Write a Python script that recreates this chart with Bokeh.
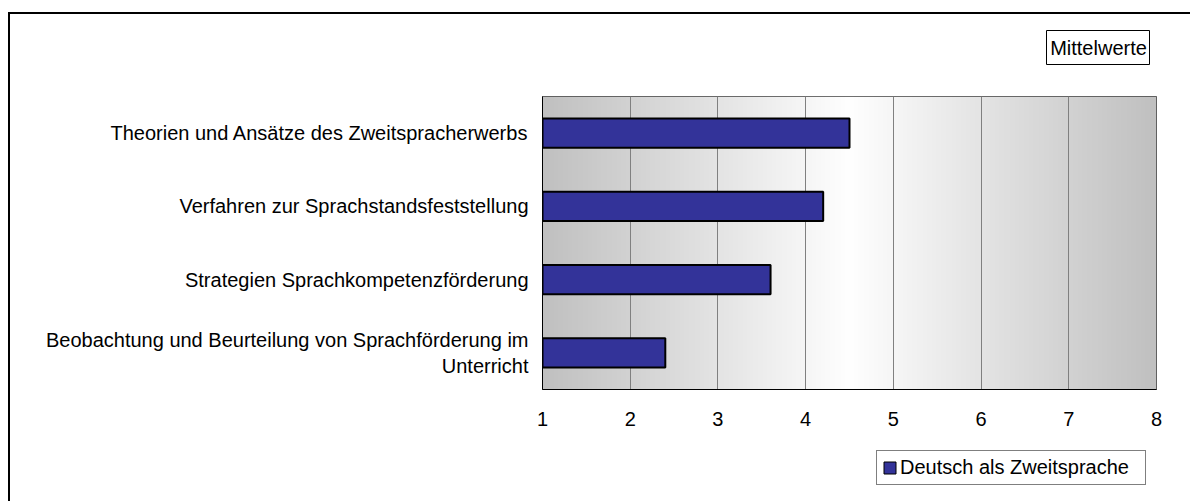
import numpy as np
from bokeh.plotting import figure
from bokeh.layouts import column, row
from bokeh.models import (FactorRange, Range1d, Legend, LegendItem, Label,
                          FixedTicker, ColumnDataSource, Spacer)
from bokeh.embed import file_html
from bokeh.resources import INLINE

# ---- data ----
categories = [
    "Theorien und Ansätze des Zweitspracherwerbs",
    "Verfahren zur Sprachstandsfeststellung",
    "Strategien Sprachkompetenzförderung",
    "Beobachtung und Beurteilung von Sprachförderung im\nUnterricht",
]
values = [4.5, 4.2, 3.6, 2.4]
series_name = "Deutsch als Zweitsprache"
x_ticks = [1, 2, 3, 4, 5, 6, 7, 8]
box_title = "Mittelwerte"

FONT = "Liberation Sans"
FS = "20px"
BAR_COLOR = "#333399"

factors = list(reversed(categories))

# ---- main chart ----
p = figure(width=1182, height=334, output_backend="svg", toolbar_location=None,
           y_range=FactorRange(factors=factors, range_padding=0),
           x_range=Range1d(x_ticks[0], x_ticks[-1]),
           min_border_left=532, min_border_right=36,
           min_border_top=0, min_border_bottom=41)
p.background_fill_color = "white"
p.border_fill_color = "white"
p.outline_line_color = "#404040"
p.outline_line_width = 1

# background gradient (grey -> white -> grey)
n = 400
xs = np.linspace(0, 1, n)
g = (192 + 63 * (1 - np.abs(xs - 0.5) * 2)).astype(np.uint8)
img = np.zeros((2, n), dtype=np.uint32)
view = img.view(dtype=np.uint8).reshape((2, n, 4))
view[:, :, 0] = g
view[:, :, 1] = g
view[:, :, 2] = g
view[:, :, 3] = 255
p.image_rgba(image=[img], x=x_ticks[0], y=0, dw=x_ticks[-1] - x_ticks[0],
             dh=len(categories), level="image")

src = ColumnDataSource(dict(cat=categories, val=values))
p.hbar(y="cat", right="val", left=x_ticks[0], height=0.4, source=src,
       fill_color=BAR_COLOR, line_color="black", line_width=2)

p.xaxis.ticker = FixedTicker(ticks=x_ticks)
p.xaxis.major_tick_line_color = None
p.xaxis.minor_tick_line_color = None
p.xaxis.axis_line_color = "black"
p.xaxis.major_label_standoff = 16
p.xaxis.major_label_text_font = FONT
p.xaxis.major_label_text_font_size = FS
p.xaxis.major_label_text_color = "black"

p.yaxis.major_tick_line_color = None
p.yaxis.minor_tick_line_color = None
p.yaxis.axis_line_color = "black"
p.yaxis.major_label_standoff = 8
p.yaxis.major_label_text_font = FONT
p.yaxis.major_label_text_font_size = FS
p.yaxis.major_label_text_color = "black"

p.xgrid.grid_line_color = "#808080"
p.xgrid.grid_line_width = 1
p.ygrid.grid_line_color = None

# ---- "Mittelwerte" box ----
p0 = figure(width=104, height=35, output_backend="svg", toolbar_location=None,
            x_axis_location=None, y_axis_location=None, min_border=0,
            x_range=Range1d(0, 1), y_range=Range1d(0, 1))
p0.grid.visible = False
p0.background_fill_color = "white"
p0.border_fill_color = "white"
p0.outline_line_color = "black"
p0.outline_line_width = 1
p0.add_layout(Label(x=0.5, y=0.5, text=box_title, text_align="center",
                    text_baseline="middle", text_font=FONT,
                    text_font_size=FS, text_color="black"))

# ---- legend strip ----
p2 = figure(width=272, height=37, output_backend="svg", toolbar_location=None,
            x_axis_location=None, y_axis_location=None, min_border=0,
            x_range=Range1d(0, 1), y_range=Range1d(0, 1))
p2.outline_line_color = None
p2.background_fill_color = "white"
p2.border_fill_color = "white"
p2.grid.visible = False
# key renderer: same series, zero-width and outside this strip's ranges
key = p2.hbar(y="val", right="val", left="val", height=0.4, source=src,
              fill_color=BAR_COLOR, line_color="black", line_width=1)
legend = Legend(items=[LegendItem(label=series_name, renderers=[key])],
                location="top_left", orientation="vertical",
                label_text_font=FONT, label_text_font_size=FS,
                label_text_color="black", label_width=240,
                glyph_width=15, glyph_height=15, label_standoff=3,
                padding=5, margin=1, spacing=0,
                border_line_color="black", border_line_width=1,
                background_fill_color="white", background_fill_alpha=1)
p2.add_layout(legend, "center")

layout = column(
    Spacer(height=16),
    row(Spacer(width=1036), p0, spacing=0),
    Spacer(height=31),
    p,
    Spacer(height=19),
    row(Spacer(width=865), p2, spacing=0),
    Spacer(height=17),
    spacing=0, margin=(14, 0, 0, 10),
    styles={"box-shadow": "-2px -2px 0 0 #000000"})

open("out.html", "w").write(file_html(layout, INLINE))
